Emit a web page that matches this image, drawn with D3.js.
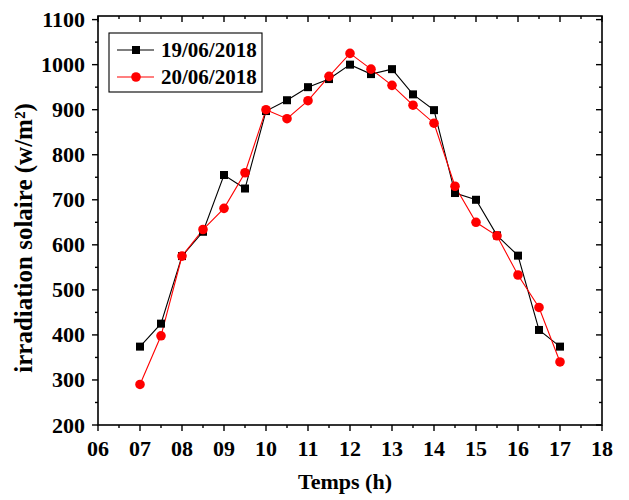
<!DOCTYPE html>
<html>
<head>
<meta charset="utf-8">
<script src="https://cdn.jsdelivr.net/npm/d3@7"></script>
<style>
    body { margin: 0; background: #fff; }
    text { font-family: "Liberation Serif", "Times New Roman", serif; font-weight: bold; }
</style>
</head>
<body>
<svg id="chart" width="629" height="500"></svg>
<script>

// hours (half-hour steps)
var hours = [7, 7.5, 8, 8.5, 9, 9.5, 10, 10.5, 11, 11.5, 12, 12.5, 13, 13.5, 14, 14.5, 15, 15.5, 16, 16.5, 17];

// irradiation, w/m2
var day19 = [374, 425, 575, 629, 755, 725, 897, 921, 950, 968, 1000, 979, 990, 934, 899, 715, 700, 621, 576, 411, 374];
var day20 = [290, 398, 575, 634, 681, 760, 900, 880, 920, 974, 1025, 990, 954, 910, 870, 730, 650, 620, 533, 461, 340];

var seriesNames = ["19/06/2018", "20/06/2018"];
var xTicks = [6, 7, 8, 9, 10, 11, 12, 13, 14, 15, 16, 17, 18];
var yTicks = [200, 300, 400, 500, 600, 700, 800, 900, 1000, 1100];

var pLeft = 98, pRight = 602, pTop = 16, pBottom = 425;

var svg = d3.select("#chart");

var x = d3.scaleLinear().domain([6, 18]).range([pLeft, pRight]);
var y = d3.scaleLinear().domain([200, 1108]).range([pBottom, pTop]);

var xMinor = d3.range(6.5, 18, 1);
var yMinor = d3.range(250, 1100, 100);

function tickLines(g, vals, at, len, vertical) {
    g.append("g").selectAll("line")
        .data(vals)
        .enter().append("line")
        .attr("x1", d => vertical ? at : x(d))
        .attr("x2", d => vertical ? at + len : x(d))
        .attr("y1", d => vertical ? y(d) : at)
        .attr("y2", d => vertical ? y(d) : at + len)
        .attr("stroke", "#000")
        .attr("stroke-width", 1.4);
}

var axes = svg.append("g");

// bottom & left ticks point outward, top & right point inward
tickLines(axes, xTicks, pBottom, 6, false);
tickLines(axes, xMinor, pBottom, 3, false);
tickLines(axes, xTicks, pTop, 6, false);
tickLines(axes, xMinor, pTop, 3, false);
tickLines(axes, yTicks, pLeft, -6, true);
tickLines(axes, yMinor, pLeft, -3, true);
tickLines(axes, yTicks, pRight, -6, true);
tickLines(axes, yMinor, pRight, -3, true);

axes.append("rect")
    .attr("x", pLeft).attr("y", pTop)
    .attr("width", pRight - pLeft).attr("height", pBottom - pTop)
    .attr("fill", "none")
    .attr("stroke", "#000")
    .attr("stroke-width", 1.6);

axes.append("g").selectAll("text")
    .data(xTicks)
    .enter().append("text")
    .attr("x", d => x(d))
    .attr("y", pBottom + 31)
    .attr("text-anchor", "middle")
    .attr("font-size", 22)
    .text(d => d3.format("02d")(d));

axes.append("g").selectAll("text")
    .data(yTicks)
    .enter().append("text")
    .attr("x", pLeft - 13)
    .attr("y", d => y(d) + 7.5)
    .attr("text-anchor", "end")
    .attr("font-size", 22)
    .text(d => d);

svg.append("text")
    .attr("x", 345)
    .attr("y", 489)
    .attr("text-anchor", "middle")
    .attr("font-size", 22)
    .text("Temps (h)");

svg.append("text")
    .attr("transform", "translate(32, 238) rotate(-90)")
    .attr("text-anchor", "middle")
    .attr("font-size", 25)
    .text("irradiation solaire (w/m²)");

// series
var line = d3.line().x(d => x(d[0])).y(d => y(d[1]));

var s19 = d3.zip(hours, day19);
var s20 = d3.zip(hours, day20);

var plot = svg.append("g");

plot.append("path").datum(s19)
    .attr("d", line).attr("fill", "none").attr("stroke", "#000").attr("stroke-width", 1.1);
plot.append("path").datum(s20)
    .attr("d", line).attr("fill", "none").attr("stroke", "#ff0000").attr("stroke-width", 1.1);

plot.selectAll("rect.sq")
    .data(s19)
    .enter().append("rect")
    .attr("class", "sq")
    .attr("x", d => x(d[0]) - 4)
    .attr("y", d => y(d[1]) - 4)
    .attr("width", 8).attr("height", 8)
    .attr("fill", "#000");

plot.selectAll("circle.ci")
    .data(s20)
    .enter().append("circle")
    .attr("class", "ci")
    .attr("cx", d => x(d[0]))
    .attr("cy", d => y(d[1]))
    .attr("r", 4.8)
    .attr("fill", "#ff0000");

// legend
var legend = svg.append("g");
legend.append("rect")
    .attr("x", 109).attr("y", 33)
    .attr("width", 153).attr("height", 59)
    .attr("fill", "#fff")
    .attr("stroke", "#000")
    .attr("stroke-width", 1.1);

var rows = [
    {name: seriesNames[0], color: "#000", shape: "square", cy: 50},
    {name: seriesNames[1], color: "#ff0000", shape: "circle", cy: 77}
];

rows.forEach(function (r) {
    legend.append("line")
        .attr("x1", 117).attr("x2", 154)
        .attr("y1", r.cy).attr("y2", r.cy)
        .attr("stroke", r.color).attr("stroke-width", 1.1);
    if (r.shape === "square") {
        legend.append("rect")
            .attr("x", 136 - 4).attr("y", r.cy - 4)
            .attr("width", 8).attr("height", 8)
            .attr("fill", r.color);
    } else {
        legend.append("circle")
            .attr("cx", 136).attr("cy", r.cy).attr("r", 4.8)
            .attr("fill", r.color);
    }
    legend.append("text")
        .attr("x", 161).attr("y", r.cy + 7)
        .attr("font-size", 21)
        .text(r.name);
});

</script>
</body>
</html>
